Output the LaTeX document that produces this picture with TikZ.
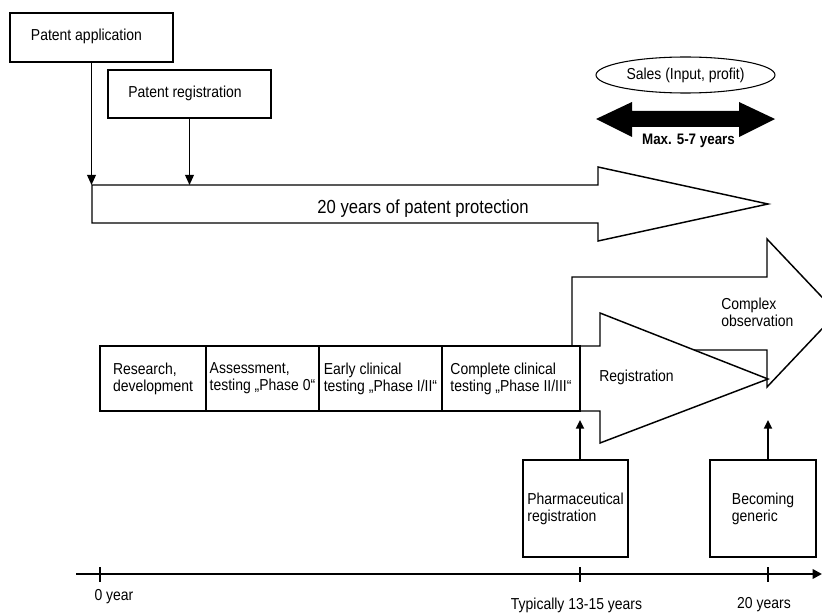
\documentclass[tikz,border=0pt]{standalone}
\usepackage{fontspec}
\setmainfont[FakeStretch=0.88]{Liberation Sans}
\usetikzlibrary{arrows.meta,shapes.geometric}
\begin{document}
\begin{tikzpicture}[x=0.75pt,y=-0.75pt,
  every node/.style={font=\fontsize{11.9}{12.75}\selectfont, inner sep=0pt},
  outline/.style={draw=black, line width=1.1pt, fill=white, line join=miter},
  boxthin/.style={draw=black, line width=1.3pt, fill=white, align=left},
  boxthick/.style={draw=black, line width=2pt, fill=white},
  conn/.style={draw=black, line width=1.1pt, -{Triangle[length=7.5pt,width=6.5pt]}},
  upconn/.style={draw=black, line width=1.4pt, -{Triangle[length=6.5pt,width=6pt]}},
  lbl/.style={align=left},
  tickmark/.style={draw=black, line width=1.8pt}
]
\useasboundingbox (0,0) rectangle (822,613);
\clip (0,0) rectangle (822,613);
\fill[white] (0,0) rectangle (822,613);

% complex observation arrow
\draw[outline] (572,350) -- (572,277) -- (767,277) -- (767,239) -- (837,313) -- (767,387) -- (767,350) -- cycle;
% registration arrow
\draw[outline] (580,346) -- (600,346) -- (600,313) -- (768,379) -- (600,443) -- (600,411) -- (580,411) -- cycle;
\node[lbl, anchor=west] (cplx) at (721,312.5) {Complex\\observation};
\node[lbl, anchor=west] (regt) at (599,377) {Registration};

% phase boxes
\node[boxthin, minimum width=106*0.75pt, minimum height=65*0.75pt] (ph1) at (153,378.5) {Research,\\development};
\node[boxthin, minimum width=113*0.75pt, minimum height=65*0.75pt] (ph2) at (262.5,378.5) {Assessment,\\testing „Phase 0“};
\node[boxthin, minimum width=123*0.75pt, minimum height=65*0.75pt] (ph3) at (380.5,378.5) {Early clinical\\testing „Phase I/II“};
\node[boxthin, minimum width=138*0.75pt, minimum height=65*0.75pt] (ph4) at (511,378.5) {Complete clinical\\testing „Phase II/III“};

% patent protection arrow
\draw[outline] (92,185) -- (598,185) -- (598,167) -- (768,204) -- (598,241) -- (598,223) -- (92,223) -- cycle;
\coordinate (protTop) at (0,185);
\node[font=\fontsize{14.2}{16}\selectfont] (prot) at (423,209) {20 years of patent protection};

% patent boxes
\node[boxthick, minimum width=163*0.75pt, minimum height=49*0.75pt] (app) at (91.5,37.5) {};
\node (apptxt) at (86.5,36) {Patent application};
\node[boxthin, minimum width=163*0.75pt, minimum height=48*0.75pt] (preg) at (189.5,94) {};
\node (pregtxt) at (185,93) {Patent registration};
\draw[conn] (app.south) -- (app.south |- protTop);
\draw[conn] (preg.south) -- (preg.south |- protTop);

% sales
\node[draw, ellipse, line width=0.8pt, minimum width=179*0.75pt, minimum height=36*0.75pt] (sales) at (685.5,75) {Sales (Input, profit)};
\fill[black] (596,119) -- (632,102) -- (632,111) -- (739,111) -- (739,102) -- (775,119) -- (739,137) -- (739,127) -- (632,127) -- (632,137) -- cycle;
\node[font=\fontsize{11.4}{12}\selectfont\bfseries] (maxlbl) at (688.5,141) {Max. 5-7 years};

% bottom boxes
\node[boxthin, minimum width=105*0.75pt, minimum height=97*0.75pt] (pharm) at (575.5,508.5) {Pharmaceutical\\registration};
\node[boxthin, minimum width=106*0.75pt, minimum height=97*0.75pt] (gen) at (763,508.5) {Becoming\\generic};
\coordinate (u1) at (580,420);
\coordinate (u2) at (768,420);
\draw[upconn] (u1 |- pharm.north) -- (u1);
\draw[upconn] (u2 |- gen.north) -- (u2);

% axis
\coordinate (ax0) at (76,574);
\coordinate (ax1) at (822,574);
\draw[line width=2.2pt, -{Triangle[length=7pt,width=7pt]}] (ax0) -- (ax1);
\draw[tickmark] (100,567) -- (100,582);
\draw[tickmark] (580,567) -- (580,582);
\draw[tickmark] (768,567) -- (768,582);
\node (l0) at (114,597) {0 year};
\node (l1) at (576.5,605) {Typically 13-15 years};
\node (l2) at (764,605) {20 years};
\end{tikzpicture}
\end{document}
